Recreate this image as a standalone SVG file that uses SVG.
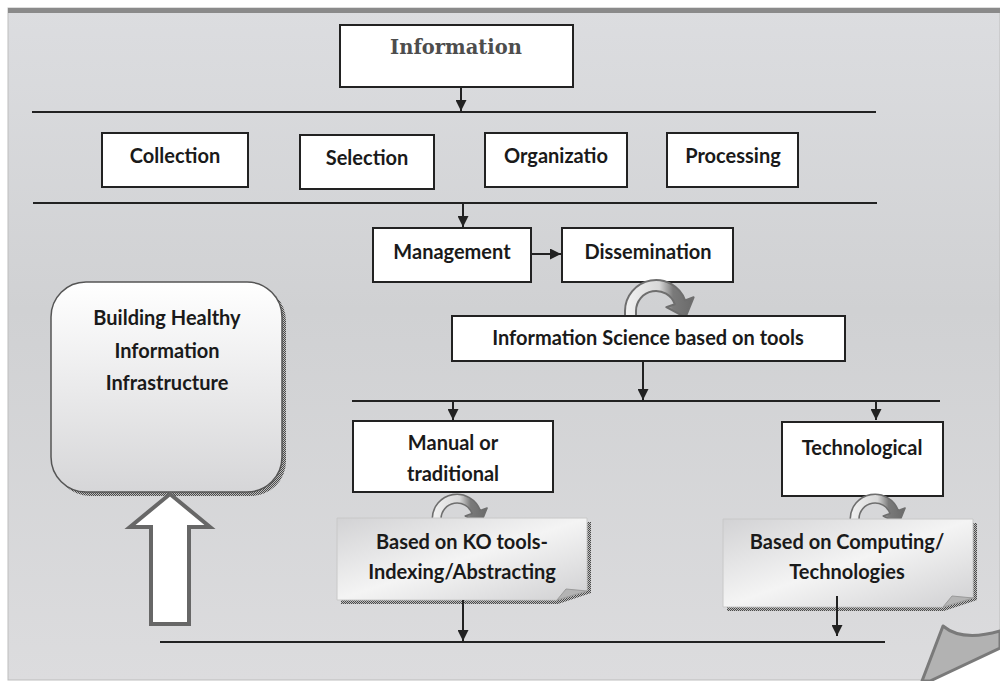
<svg xmlns="http://www.w3.org/2000/svg" width="1000" height="681" viewBox="0 0 1000 681">
<style>
.box{fill:#fff;stroke:#222;stroke-width:2}
.t{font-family:Lato,"Liberation Sans",sans-serif;font-weight:700;font-size:20px;fill:#1a1a1a;text-anchor:middle}
.ln{stroke:#222;stroke-width:2;fill:none}
.uturn{fill:url(#ug);stroke:#6e6e6e;stroke-width:2;stroke-linejoin:round}
</style>
<defs>
<linearGradient id="bg" x1="0" y1="0" x2="0" y2="1">
<stop offset="0" stop-color="#dcdde0"/>
<stop offset="0.45" stop-color="#d0d1d3"/>
<stop offset="1" stop-color="#dcdcde"/>
</linearGradient>
<linearGradient id="bh" x1="0" y1="0" x2="0" y2="1">
<stop offset="0" stop-color="#ffffff"/>
<stop offset="1" stop-color="#d6d6d8"/>
</linearGradient>
<linearGradient id="note" x1="0" y1="0" x2="1" y2="1">
<stop offset="0" stop-color="#d2d2d4"/>
<stop offset="0.5" stop-color="#f4f4f4"/>
<stop offset="1" stop-color="#d0d0d2"/>
</linearGradient>
<linearGradient id="ug" x1="0" y1="0" x2="1" y2="0">
<stop offset="0" stop-color="#f2f2f2"/>
<stop offset="0.5" stop-color="#d8d8d8"/>
<stop offset="0.7" stop-color="#7a7a7a"/>
<stop offset="1" stop-color="#6a6a6a"/>
</linearGradient>
<pattern id="hatch" width="2" height="2" patternUnits="userSpaceOnUse">
<rect width="2" height="2" fill="#bdbdbd"/>
<rect width="1" height="1" fill="#4a4a4a"/>
<rect x="1" y="1" width="1" height="1" fill="#4a4a4a"/>
</pattern>
<marker id="ah" viewBox="0 0 10 10" refX="10" refY="5" markerWidth="5.5" markerHeight="5.5" orient="auto" markerUnits="strokeWidth">
<path d="M0 0 L10 5 L0 10 Z" fill="#222"/>
</marker>
<path id="uturn" d="M -31 6 L -31 0 A 31 31 0 0 1 29.1 -10.6 L 37.6 -13.7 L 29.5 6.3 L 10.3 -3.8 L 18.8 -6.8 A 20 20 0 0 0 -20 0 L -20 6 Z"/>
</defs>

<g id="background">
<rect x="0" y="0" width="1000" height="681" fill="#ffffff"/>
<rect x="8" y="8" width="992" height="672" fill="url(#bg)" stroke="#bdbdbd" stroke-width="1"/>
<rect x="8" y="8" width="992" height="5" fill="#8a8a8a"/>
</g>

<g id="connectors">
<line class="ln" x1="32" y1="112" x2="876" y2="112"/>
<line class="ln" x1="461" y1="87" x2="461" y2="111" marker-end="url(#ah)"/>
<line class="ln" x1="33" y1="203" x2="877" y2="203"/>
<line class="ln" x1="463" y1="203" x2="463" y2="227" marker-end="url(#ah)"/>
<line class="ln" x1="531" y1="254" x2="561" y2="254" marker-end="url(#ah)"/>
<line class="ln" x1="643" y1="361" x2="643" y2="400" marker-end="url(#ah)"/>
<line class="ln" x1="352" y1="401" x2="940" y2="401"/>
<line class="ln" x1="453" y1="401" x2="453" y2="420" marker-end="url(#ah)"/>
<line class="ln" x1="876" y1="401" x2="876" y2="420" marker-end="url(#ah)"/>
<line class="ln" x1="160" y1="642" x2="885" y2="642"/>
</g>

<g id="n-information">
<rect class="box" x="340" y="25" width="233" height="62"/>
<text x="456" y="54" font-family="DejaVu Serif,'Liberation Serif',serif" font-weight="700" font-size="19.5" fill="#4d4d4d" text-anchor="middle">Information</text>
</g>

<g id="n-collection"><rect class="box" x="102" y="133" width="146" height="54"/><text class="t" x="175" y="163">Collection</text></g>
<g id="n-selection"><rect class="box" x="300" y="135" width="134" height="54"/><text class="t" x="367" y="165">Selection</text></g>
<g id="n-organization"><rect class="box" x="485" y="133" width="142" height="54"/><text class="t" x="556" y="163">Organizatio</text></g>
<g id="n-processing"><rect class="box" x="667" y="133" width="131" height="54"/><text class="t" x="733" y="163">Processing</text></g>

<g id="n-management"><rect class="box" x="373" y="228" width="158" height="54"/><text class="t" x="452" y="259">Management</text></g>
<g id="n-dissemination"><rect class="box" x="562" y="228" width="171" height="54"/><text class="t" x="648" y="259">Dissemination</text></g>

<g id="u1"><use href="#uturn" class="uturn" transform="translate(656,311)"/></g>

<g id="n-infoscience"><rect class="box" x="452" y="316" width="393" height="45"/><text class="t" x="648" y="345">Information Science based on tools</text></g>

<g id="n-manual"><rect class="box" x="353" y="421" width="200" height="71"/><text class="t" x="453" y="450">Manual or</text><text class="t" x="453" y="481">traditional</text></g>
<g id="n-technological"><rect class="box" x="782" y="422" width="161" height="74"/><text class="t" x="862" y="455">Technological</text></g>

<g id="u2"><use href="#uturn" class="uturn" transform="translate(457,519) scale(0.8)"/></g>
<g id="u3"><use href="#uturn" class="uturn" transform="translate(875,519) scale(0.8)"/></g>

<g id="n-ko">
<path d="M341 600 L557 600 L587 591 L587 522 L591 522 L591 593 L558 604 L341 604 Z" fill="url(#hatch)"/>
<path d="M337 518 L587 518 L587 591 L557 600 L337 600 Z" fill="url(#note)" stroke="#c8c8c8" stroke-width="1"/>
<path d="M557 600 L566 589 L587 591 Z" fill="#b4b4b4" stroke="#9a9a9a" stroke-width="1"/>
<text class="t" x="462" y="549">Based on KO tools-</text>
<text class="t" x="462" y="579">Indexing/Abstracting</text>
</g>

<g id="n-computing">
<path d="M727 607 L943 607 L973 598 L973 523 L977 523 L977 600 L944 611 L727 611 Z" fill="url(#hatch)"/>
<path d="M723 519 L973 519 L973 598 L943 607 L723 607 Z" fill="url(#note)" stroke="#c8c8c8" stroke-width="1"/>
<path d="M943 607 L952 596 L973 598 Z" fill="#b4b4b4" stroke="#9a9a9a" stroke-width="1"/>
<text class="t" x="847" y="549">Based on Computing/</text>
<text class="t" x="847" y="579">Technologies</text>
</g>

<g id="connectors-over">
<line class="ln" x1="463" y1="600" x2="463" y2="641" marker-end="url(#ah)"/>
<line class="ln" x1="837" y1="596" x2="837" y2="636" marker-end="url(#ah)"/>
</g>

<g id="n-building">
<rect x="55" y="286" width="231" height="210" rx="35" fill="url(#hatch)"/>
<rect x="51" y="282" width="231" height="210" rx="35" fill="url(#bh)" stroke="#555" stroke-width="1.5"/>
<text class="t" x="167" y="325" font-size="22.5">Building Healthy</text>
<text class="t" x="167" y="358" font-size="22.5">Information</text>
<text class="t" x="167" y="390" font-size="22.5">Infrastructure</text>
</g>

<g id="up-arrow">
<polygon points="170,494 210,527 189,527 189,624 151,624 151,527 130,527" fill="#fff" stroke="#676767" stroke-width="4"/>
</g>

<g id="page-curl">
<path d="M930 681 L1000 648 L1000 681 Z" fill="#ffffff"/>
<path d="M922 681 L943 626 Q962 642 1000 631 L1000 648 L930 681 Z" fill="#b2b2b2" stroke="#7a7a7a" stroke-width="3" stroke-linejoin="round"/>
</g>
</svg>
